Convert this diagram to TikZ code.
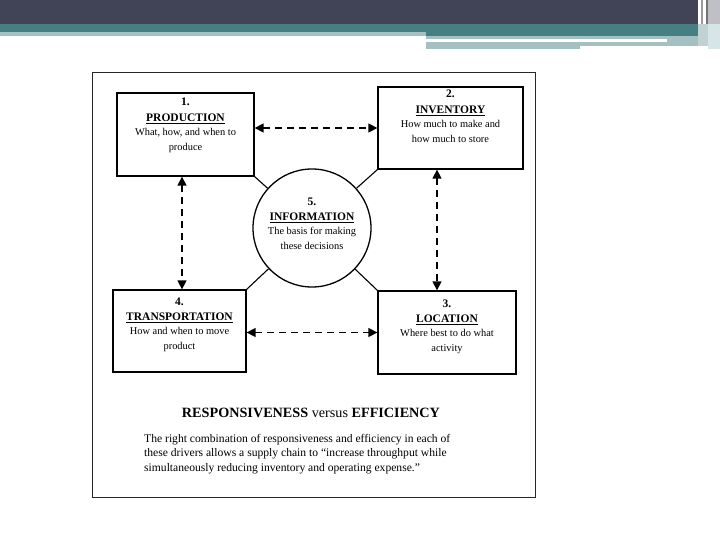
\documentclass[tikz,border=0pt]{standalone}
\usepackage{fontspec}
\setmainfont{Liberation Serif}
\usetikzlibrary{arrows.meta,positioning}
\definecolor{hdrdark}{HTML}{414457}
\definecolor{hdrteal}{HTML}{467F82}
\definecolor{hdrlight}{HTML}{A6BFC2}
\definecolor{hdrgrey}{HTML}{BFBFC6}
\definecolor{hdrpale}{HTML}{D6E6E6}
\newcommand{\hd}[1]{{\fontsize{11.5}{15}\selectfont\underline{\textbf{#1}}}}
\newcommand{\nr}[1]{{\fontsize{11.5}{15}\selectfont\textbf{#1}}}
\begin{document}
\begin{tikzpicture}[x=1pt,y=-1pt,drv/.style={draw,line width=1.3pt,inner sep=0pt},lbl/.style={align=center,font=\fontsize{10.4}{14.5}\selectfont,inner sep=0pt},arr/.style={{Triangle[length=9pt,width=9pt]}-{Triangle[length=9pt,width=9pt]},line width=1.4pt,dash pattern=on 7pt off 5pt},lnk/.style={line width=1.1pt}]
\useasboundingbox (0,0) rectangle (720,540);
\fill[white] (0,0) rectangle (720,540);
\fill[hdrdark] (0,0) rectangle (698,24);\fill[hdrgrey] (708,0) rectangle (720,24);
\fill[hdrgrey!80!black] (701,0) rectangle (703,24);\fill[hdrgrey!60!black] (706,0) rectangle (708,24);
\fill[hdrteal] (0,24) rectangle (698,32);\fill[hdrteal] (426,24) rectangle (698,36);
\fill[hdrlight] (0,32) rectangle (426,36);\fill[hdrlight] (426,36) rectangle (667,39);
\fill[hdrlight] (426,42) rectangle (580,49);\fill[hdrlight] (580,42) rectangle (698,46);\fill[hdrlight] (667,36) rectangle (698,46);
\fill[hdrlight!70!white] (698,24) rectangle (708,46);\fill[hdrpale] (708,24) rectangle (720,49);
\draw[line width=1pt,black!85] (92,73) rectangle (535,497);
\node[drv,minimum width=137pt,minimum height=83pt](prod) at (185.5,134.5){};
\node[drv,minimum width=145pt,minimum height=82pt](inv) at (450.5,128){};
\node[drv,minimum width=133pt,minimum height=82pt](trans) at (179.5,331){};
\node[drv,minimum width=138pt,minimum height=83pt](loc) at (447,332.5){};
\node[drv,circle,minimum size=118pt](info) at (312,228){};
\node[lbl,anchor=north] at (185.5,98){\nr{1.}\\[1pt]\hd{PRODUCTION}\\What, how, and when to\\produce};
\node[lbl,anchor=north] at (450.5,90){\nr{2.}\\[1pt]\hd{INVENTORY}\\How much to make and\\how much to store};
\node[lbl,anchor=north] at (312,198){\nr{5.}\\\hd{INFORMATION}\\The basis for making\\these decisions};
\node[lbl,anchor=north] at (179.5,298){\nr{4.}\\\hd{TRANSPORTATION}\\How and when to move\\product};
\node[lbl,anchor=north] at (447,300){\nr{3.}\\\hd{LOCATION}\\Where best to do what\\activity};
\draw[lnk] (prod.south east) -- (info);\draw[lnk] (inv.south west) -- (info);
\draw[lnk] (trans.north east) -- (info);\draw[lnk] (loc.north west) -- (info);
\draw[arr] (prod.east |- inv.west) -- (inv.west);
\draw[arr] (trans.east |- loc.west) -- (loc.west);
\draw[arr] ([xshift=-3.5pt]prod.south) -- ([xshift=-3.5pt]prod.south |- trans.north);
\draw[arr] ([xshift=-13.5pt]inv.south) -- ([xshift=-13.5pt]inv.south |- loc.north);
\node[font=\fontsize{14.2}{16}\selectfont\bfseries](ttl) at (311,413){RESPONSIVENESS \textmd{versus} EFFICIENCY};
\node[anchor=north west,align=left,inner sep=0pt,font=\fontsize{11.6}{14.5}\selectfont](txt) at (144,434){The right combination of responsiveness and efficiency in each of\\these drivers allows a supply chain to ``increase throughput while\\simultaneously reducing inventory and operating expense.''};
\end{tikzpicture}
\end{document}
